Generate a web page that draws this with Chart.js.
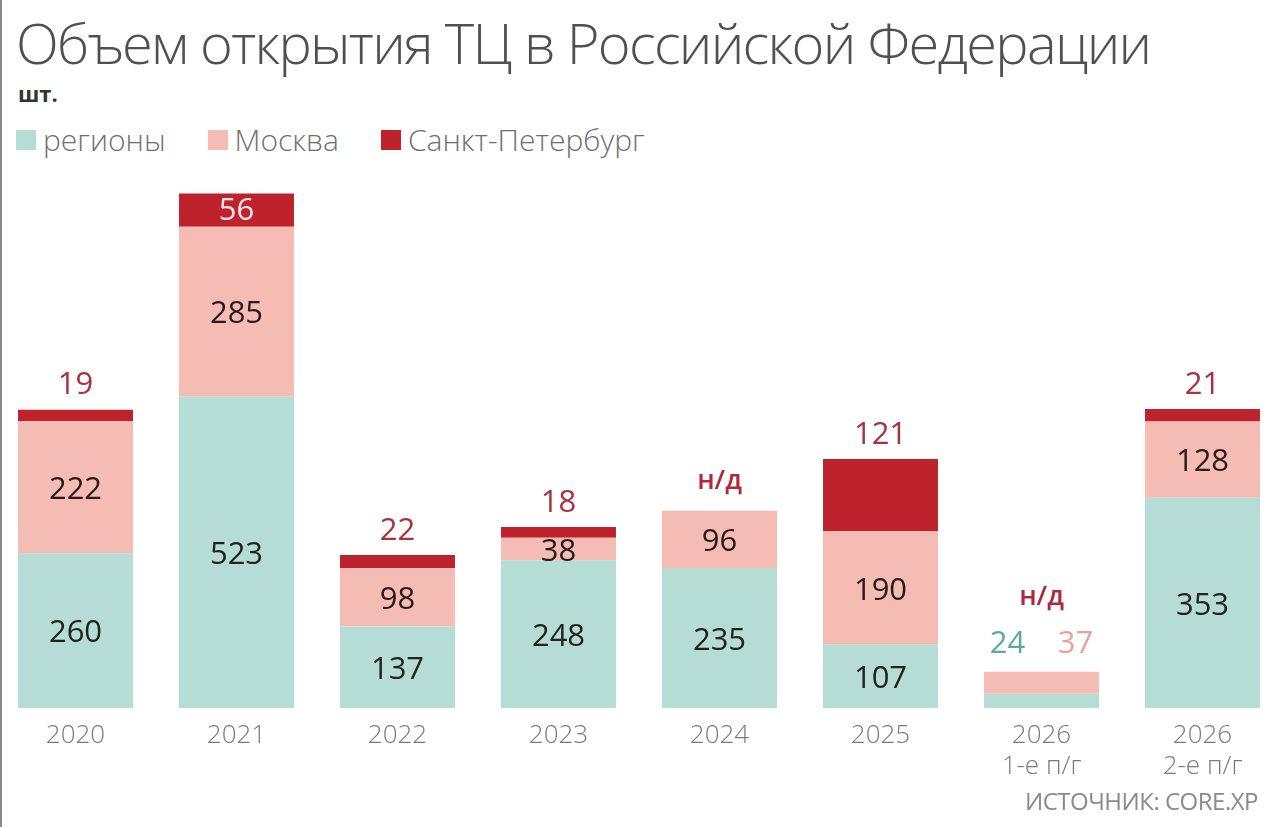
<!DOCTYPE html>
<html lang="ru">
<head>
<meta charset="utf-8">
<title>Объем открытия ТЦ в Российской Федерации</title>
<script src="https://cdn.jsdelivr.net/npm/chart.js@4.4.1/dist/chart.umd.min.js"></script>
<style>
  html, body { margin: 0; padding: 0; background: #fff; }
  body { width: 1280px; height: 827px; position: relative; overflow: hidden; font-family: "Open Sans", sans-serif; }
  .edge { position: absolute; left: 0; top: 0; width: 2px; height: 827px; background: #8a8a8a; }
  h1 { position: absolute; left: 16px; top: 4px; margin: 0; font-weight: 300; font-size: 56px; color: #505050; letter-spacing: -1.7px; white-space: nowrap; }
  .unit { position: absolute; left: 18px; top: 78px; font-size: 22px; font-weight: 700; color: #333; }
  .legend { position: absolute; left: 16px; top: 119px; display: flex; font-size: 30px; font-weight: 300; color: #6f6f6f; }
  .legend span { display: flex; align-items: center; margin-right: 42px; }
  .legend i { display: inline-block; width: 20px; height: 20px; margin-right: 7px; }
  .source { position: absolute; right: 22px; top: 784px; font-family: "Liberation Sans Narrow", "Open Sans", sans-serif; font-size: 24px; color: #8a8a8a; letter-spacing: -0.5px; }
  #wrap { position: absolute; left: -5px; top: 172px; width: 1288px; height: 616px; }
</style>
</head>
<body>
<div class="edge"></div>
<h1>Объем открытия ТЦ в Российской Федерации</h1>
<div class="unit">шт.</div>
<div class="legend">
  <span><i style="background:#b5ddd5"></i>регионы</span>
  <span><i style="background:#f4bcb3"></i>Москва</span>
  <span><i style="background:#be222d"></i>Санкт-Петербург</span>
</div>
<div id="wrap"><canvas id="chart"></canvas></div>
<div class="source">ИСТОЧНИК: CORE.XP</div>

<script>
// categories and series (null = no data, shown as "н/д")
const years = [["2020"], ["2021"], ["2022"], ["2023"], ["2024"], ["2025"], ["2026", "1-е п/г"], ["2026", "2-е п/г"]];
const regions = [260, 523, 137, 248, 235, 107, 24, 353];
const moscow = [222, 285, 98, 38, 96, 190, 37, 128];
const spb = [19, 56, 22, 18, null, 121, null, 21];

const colRegions = "#b5ddd5";
const colMoscow = "#f4bcb3";
const colSpb = "#be222d";

// draws value labels on and above the bars
const barLabels = {
    id: "barLabels",
    afterDatasetsDraw(chart) {
        const ctx = chart.ctx;
        const mReg = chart.getDatasetMeta(0);
        const mMos = chart.getDatasetMeta(1);
        const mSpb = chart.getDatasetMeta(2);
        ctx.save();
        ctx.textAlign = "center";
        ctx.textBaseline = "middle";
        const numFont = "500 31px 'Open Sans', sans-serif";

        for (let i = 0; i < years.length; i++) {
            const r = mReg.data[i], m = mMos.data[i], s = mSpb.data[i];
            const barTop = spb[i] != null ? s.y : m.y;
            const small = (r.base - barTop) < 40;

            ctx.font = numFont;
            if (!small) {
                ctx.fillStyle = "#222";
                ctx.fillText(regions[i], r.x, (r.y + r.base) / 2 + 3);
                ctx.fillStyle = "#2a1a1a";
                ctx.fillText(moscow[i], m.x, (m.y + m.base) / 2 + 3);
            } else {
                ctx.fillStyle = "#5fa89b";
                ctx.fillText(regions[i], r.x - 34, barTop - 27);
                ctx.fillStyle = "#e8a39b";
                ctx.fillText(moscow[i], m.x + 34, barTop - 27);
            }

            if (spb[i] == null) {
                ctx.font = "600 27px 'Open Sans', sans-serif";
                ctx.fillStyle = "#b0293a";
                ctx.fillText("н/д", m.x, barTop - (small ? 74 : 30));
            } else if (s.base - s.y > 30 && s.base - s.y < 50) {
                ctx.fillStyle = "#fde8e6";
                ctx.fillText(spb[i], s.x, (s.y + s.base) / 2 + 1);
            } else {
                ctx.fillStyle = "#a8323f";
                ctx.fillText(spb[i], s.x, s.y - 24);
            }
        }
        ctx.restore();
    }
};

new Chart(document.getElementById("chart"), {
    type: "bar",
    data: {
        labels: years,
        datasets: [
            { label: "регионы", data: regions, backgroundColor: colRegions },
            { label: "Москва", data: moscow, backgroundColor: colMoscow },
            { label: "Санкт-Петербург", data: spb, backgroundColor: colSpb }
        ]
    },
    options: {
        responsive: true,
        maintainAspectRatio: false,
        animation: false,
        layout: { padding: 0 },
        datasets: {
            bar: { barPercentage: 0.714, categoryPercentage: 1, borderWidth: 0 }
        },
        plugins: {
            legend: { display: false },
            tooltip: { enabled: false }
        },
        scales: {
            x: {
                stacked: true,
                grid: { display: false },
                border: { display: false },
                ticks: {
                    color: "#7a7a7a",
                    padding: 4,
                    font: { family: "'Open Sans', sans-serif", size: 26, weight: "300", lineHeight: 1.2 }
                },
                afterFit(scale) { scale.height = 80; }
            },
            y: {
                stacked: true,
                display: false,
                min: 0,
                max: 900
            }
        }
    },
    plugins: [barLabels]
});
</script>
</body>
</html>
